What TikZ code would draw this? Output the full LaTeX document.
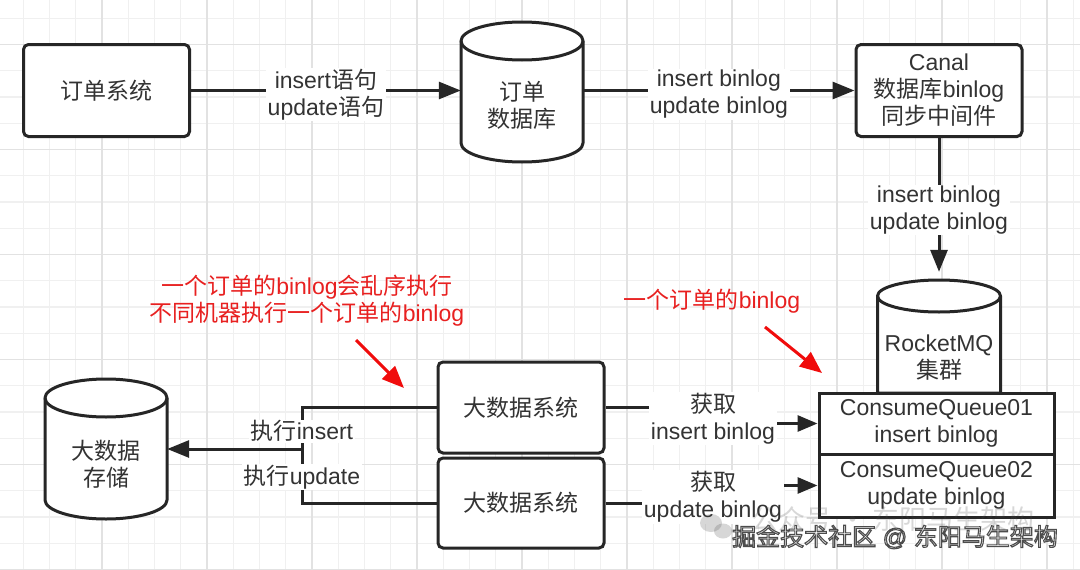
\documentclass[tikz,border=0pt]{standalone}
\usepackage{fontspec}
\setmainfont{Liberation Sans}
\newfontfamily\cjkfont{Noto Sans CJK SC}
\usetikzlibrary{arrows.meta,calc}
\newcommand\zhtxt[1]{{\cjkfont #1}}
\newcommand\myfs{\fontsize{23}{27}\selectfont}
\newcommand\wmfs{\fontsize{24}{28}\selectfont}
\definecolor{linec}{RGB}{38,38,38}
\definecolor{textc}{RGB}{51,51,51}
\definecolor{redc}{RGB}{232,32,32}
\definecolor{redarrc}{RGB}{240,12,12}
\definecolor{gridminor}{RGB}{240,240,240}
\definecolor{gridmajor}{RGB}{226,226,226}
\begin{document}
\begin{tikzpicture}[x=1pt,y=-1pt,
  box/.style={draw=linec, line width=3pt, rounded corners=5pt, fill=white, text=textc, font=\myfs, align=center, inner sep=0pt},
  sqbox/.style={draw=linec, line width=3pt, fill=white, text=textc, font=\myfs, align=center, inner sep=0pt},
  anchorbox/.style={draw=none, inner sep=0pt},
  cyl/.style={draw=linec, line width=3pt, fill=white, line join=round},
  txt/.style={text=textc, font=\myfs, align=center, inner sep=0pt},
  conn/.style={draw=linec, line width=3pt},
  arr/.style={conn, -{Triangle[length=22pt,width=17pt]}},
  lbl/.style={fill=white, text=textc, font=\myfs, align=center, inner xsep=2pt, inner ysep=1pt},
  redtxt/.style={text=redc, font=\myfs, align=center, inner sep=0pt},
  redarr/.style={draw=redarrc, line width=3pt, -{Triangle[length=22pt,width=18pt]}},
  gminor/.style={draw=gridminor, line width=1.3pt},
  gmajor/.style={draw=gridmajor, line width=1.5pt}
]
% background and grid
\fill[white] (0,0) rectangle (1080,570);
\useasboundingbox (0,0) rectangle (1080,570);
\foreach \i in {0,...,40} {\draw[gminor] ({23.3+26.25*\i},0) -- ({23.3+26.25*\i},570);}
\foreach \i in {0,...,21} {\draw[gminor] (0,{18.3+26.25*\i}) -- (1080,{18.3+26.25*\i});}
\foreach \j in {0,...,9} {\draw[gmajor] ({102.05+105*\j},0) -- ({102.05+105*\j},570);}
\foreach \j in {0,...,5} {\draw[gmajor] (0,{44.55+105*\j}) -- (1080,{44.55+105*\j});}

% cylinders (drawn shapes) with anchor nodes
\node[anchorbox, minimum width=122pt, minimum height=140pt] (db) at (522,92) {};
\draw[cyl] (461,41) -- (461,143) arc[start angle=180,end angle=360,x radius=61pt,y radius=19pt] -- (583,41) arc[start angle=0,end angle=180,x radius=61pt,y radius=19pt] -- cycle;
\draw[cyl, fill=none] (461,41) arc[start angle=180,end angle=360,x radius=61pt,y radius=19pt];
\node[txt] (dbt) at (522,105.5) {\zhtxt{订单}\\\zhtxt{数据库}};

\node[anchorbox, minimum width=123pt, minimum height=113pt] (mq) at (939,336.5) {};
\draw[cyl] (877.5,296) -- (877.5,393) -- (1000.5,393) -- (1000.5,296) arc[start angle=0,end angle=180,x radius=61.5pt,y radius=16pt] -- cycle;
\draw[cyl, fill=none] (877.5,296) arc[start angle=180,end angle=360,x radius=61.5pt,y radius=16pt];
\node[txt] (mqt) at (939,357.5) {RocketMQ\\\zhtxt{集群}};

\node[anchorbox, minimum width=122pt, minimum height=140pt] (store) at (106,449) {};
\draw[cyl] (45,398) -- (45,500) arc[start angle=180,end angle=360,x radius=61pt,y radius=19pt] -- (167,398) arc[start angle=0,end angle=180,x radius=61pt,y radius=19pt] -- cycle;
\draw[cyl, fill=none] (45,398) arc[start angle=180,end angle=360,x radius=61pt,y radius=19pt];
\node[txt] (storet) at (106,464) {\zhtxt{大数据}\\\zhtxt{存储}};

% boxes
\node[box, minimum width=166pt, minimum height=92pt] (sys) at (106.5,90.5) {\zhtxt{订单系统}};
\node[box, minimum width=166pt, minimum height=92pt] (canal) at (939,90.5) {Canal\\\zhtxt{数据库}binlog\\\zhtxt{同步中间件}};
\node[box, minimum width=166pt, minimum height=91pt] (bd1) at (521,407.5) {\zhtxt{大数据系统}};
\node[box, minimum width=166pt, minimum height=90pt] (bd2) at (521,503) {\zhtxt{大数据系统}};
\node[sqbox, minimum width=235pt, minimum height=61pt] (cq1) at (936.5,423.5) {ConsumeQueue01\\insert binlog};
\node[sqbox, minimum width=235pt, minimum height=63pt] (cq2) at (936.5,485.5) {ConsumeQueue02\\update binlog};

% connectors
\draw[arr] (sys.east) -- (sys.east -| db.west) node[lbl, midway, yshift=-4pt] (l1) {insert\zhtxt{语句}\\update\zhtxt{语句}};
\draw[arr] (db.east |- canal.west) -- (canal.west) node[lbl, midway, yshift=-4pt] (l2) {insert binlog\\update binlog};
\draw[arr, shorten >=8pt] (canal.south) -- (canal.south |- mq.north) node[lbl, midway, yshift=-1pt] (l3) {insert binlog\\update binlog};

\coordinate (k1) at (713,416);
\coordinate (k2) at (713,495);
\draw[arr, -{Triangle[length=20pt,width=16pt]}] (bd1.east) -| (k1) |- (cq1.west);
\node[lbl] (l4) at (713,418.5) {\zhtxt{获取}\\insert binlog};
\draw[arr, -{Triangle[length=20pt,width=16pt]}] (bd2.east) -| (k2) |- (cq2.west);
\node[lbl] (l5) at (713,497) {\zhtxt{获取}\\update binlog};

\coordinate (jn) at (302,449);
\draw[conn] (bd1.west) -| (jn) node[lbl, pos=0.75, yshift=-3pt] (l6) {\zhtxt{执行}insert};
\draw[conn] (bd2.west) -| (jn) node[lbl, pos=0.75, yshift=-1pt] (l7) {\zhtxt{执行}update};
\draw[arr] (jn) -- (store.east);

% red notes
\node[redtxt] (note1) at (307,300.5) {\zhtxt{一个订单的}binlog\zhtxt{会乱序执行}\\\zhtxt{不同机器执行一个订单的}binlog};
\node[redtxt] (note2) at (712,301) {\zhtxt{一个订单的}binlog};
\coordinate (r1s) at (356,340);
\coordinate (r1e) at (404,388);
\coordinate (r2s) at (765,327);
\coordinate (r2e) at (822,373);
\draw[redarr] (r1s) -- (r1e);
\draw[redarr] (r2s) -- (r2e);

% watermark
\begin{scope}[opacity=0.22]
\fill[black!70] (711,523) ellipse [x radius=11pt, y radius=9pt];
\fill[black!70] (723,531) ellipse [x radius=9pt, y radius=7.5pt];
\node[text=black!70, font=\fontsize{27}{30}\selectfont, inner sep=0pt] (wmfaint) at (893,519) {\zhtxt{公众号 · 东阳马生架构}};
\end{scope}
\node[text=white, font=\wmfs, inner sep=0pt] (wm) at (895,537) {\special{pdf:literal direct 2 Tr 1.1 w 0.3 G}\zhtxt{掘金技术社区} @ \zhtxt{东阳马生架构}\special{pdf:literal direct 0 Tr}};
\end{tikzpicture}
\end{document}
